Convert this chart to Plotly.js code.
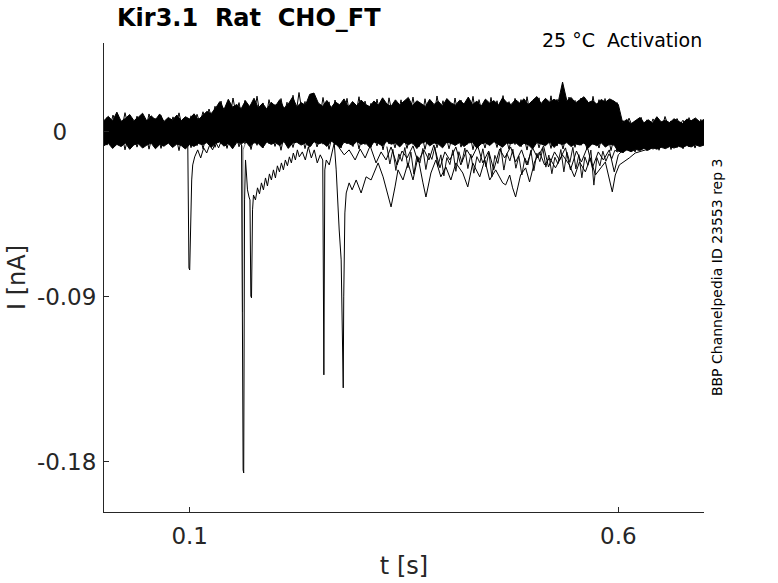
<!DOCTYPE html>
<html>
<head>
<meta charset="utf-8">
<script src="https://cdn.plot.ly/plotly-3.0.1.min.js"></script>
<style>
  html, body { margin: 0; padding: 0; background: #fff; }
  #chart { width: 778px; height: 583px; }
</style>
</head>
<body>
<div id="chart"></div>
<script>
// sweep band, sampled every 5 ms from t = 0 (nA)
const bandStep = 0.005;
const bandUpper = [
  0.0062, 0.0085, 0.0060, 0.0108, 0.0058, 0.0074, 0.0095, 0.0061, 0.0080, 0.0102,
  0.0059, 0.0088, 0.0066, 0.0098, 0.0057, 0.0079, 0.0064, 0.0092, 0.0061, 0.0083,
  0.0070, 0.0099, 0.0066, 0.0090, 0.0112, 0.0100, 0.0128, 0.0165, 0.0122, 0.0178,
  0.0135, 0.0150, 0.0126, 0.0170, 0.0138, 0.0184, 0.0131, 0.0156, 0.0124, 0.0162,
  0.0141, 0.0176, 0.0129, 0.0152, 0.0190, 0.0137, 0.0160, 0.0145, 0.0205, 0.0212,
  0.0158, 0.0140, 0.0172, 0.0133, 0.0163, 0.0148, 0.0180, 0.0136, 0.0166, 0.0142,
  0.0174, 0.0150, 0.0138, 0.0169, 0.0145, 0.0186, 0.0152, 0.0140, 0.0175, 0.0147,
  0.0165, 0.0188, 0.0143, 0.0170, 0.0155, 0.0139, 0.0178, 0.0150, 0.0167, 0.0141,
  0.0182, 0.0158, 0.0146, 0.0173, 0.0152, 0.0190, 0.0149, 0.0168, 0.0140, 0.0179,
  0.0157, 0.0171, 0.0145, 0.0186, 0.0160, 0.0150, 0.0176, 0.0158, 0.0181, 0.0148,
  0.0172, 0.0193, 0.0155, 0.0183, 0.0162, 0.0178, 0.0165, 0.0272, 0.0170, 0.0188,
  0.0158, 0.0175, 0.0192, 0.0160, 0.0170, 0.0152, 0.0177, 0.0163, 0.0180, 0.0168,
  0.0150, 0.0052, 0.0068, 0.0045, 0.0060, 0.0078, 0.0050, 0.0066, 0.0048, 0.0083,
  0.0055, 0.0064, 0.0050, 0.0072, 0.0058, 0.0047, 0.0070, 0.0061, 0.0076, 0.0056,
  0.0068
];
const bandLower = [
  -0.0075, -0.0062, -0.0090, -0.0068, -0.0080, -0.0060, -0.0095, -0.0070, -0.0064, -0.0088,
  -0.0072, -0.0061, -0.0092, -0.0069, -0.0078, -0.0060, -0.0085, -0.0066, -0.0074, -0.0093,
  -0.0068, -0.0079, -0.0063, -0.0070, -0.0058, -0.0085, -0.0062, -0.0055, -0.0078, -0.0060,
  -0.0092, -0.0057, -0.0066, -0.0050, -0.0080, -0.0059, -0.0063, -0.0087, -0.0054, -0.0068,
  -0.0058, -0.0075, -0.0052, -0.0090, -0.0061, -0.0056, -0.0072, -0.0060, -0.0083, -0.0053,
  -0.0066, -0.0058, -0.0079, -0.0050, -0.0064, -0.0088, -0.0057, -0.0062, -0.0074, -0.0052,
  -0.0068, -0.0059, -0.0085, -0.0055, -0.0063, -0.0077, -0.0051, -0.0067, -0.0060, -0.0082,
  -0.0056, -0.0070, -0.0058, -0.0091, -0.0062, -0.0054, -0.0076, -0.0060, -0.0066, -0.0087,
  -0.0055, -0.0063, -0.0072, -0.0058, -0.0080, -0.0061, -0.0056, -0.0089, -0.0065, -0.0059,
  -0.0074, -0.0053, -0.0068, -0.0083, -0.0060, -0.0064, -0.0057, -0.0078, -0.0062, -0.0070,
  -0.0093, -0.0058, -0.0066, -0.0075, -0.0054, -0.0085, -0.0062, -0.0069, -0.0058, -0.0080,
  -0.0065, -0.0071, -0.0060, -0.0088, -0.0063, -0.0076, -0.0059, -0.0082, -0.0067, -0.0072,
  -0.0105, -0.0112, -0.0098, -0.0108, -0.0095, -0.0102, -0.0090, -0.0099, -0.0086, -0.0094,
  -0.0084, -0.0091, -0.0080, -0.0088, -0.0078, -0.0085, -0.0074, -0.0082, -0.0070, -0.0079,
  -0.0072
];

// two sweeps running along the band edges, sampled every 3.5 ms from t = 0
const edgeStep = 0.0035;
const edgeUpper = [
  0.0030, 0.0078, 0.0025, 0.0092, 0.0040, 0.0068, 0.0022, 0.0105, 0.0035, 0.0072,
  0.0028, 0.0086, 0.0045, 0.0064, 0.0020, 0.0098, 0.0038, 0.0075, 0.0030, 0.0090,
  0.0042, 0.0066, 0.0026, 0.0082, 0.0036, 0.0104, 0.0031, 0.0070, 0.0024, 0.0088,
  0.0040, 0.0096, 0.0048, 0.0110, 0.0060, 0.0125, 0.0072, 0.0140, 0.0085, 0.0168,
  0.0090, 0.0152, 0.0080, 0.0185, 0.0095, 0.0160, 0.0078, 0.0172, 0.0102, 0.0148,
  0.0084, 0.0195, 0.0092, 0.0158, 0.0076, 0.0176, 0.0105, 0.0150, 0.0088, 0.0182,
  0.0094, 0.0162, 0.0079, 0.0200, 0.0098, 0.0215, 0.0110, 0.0166, 0.0086, 0.0178,
  0.0100, 0.0155, 0.0082, 0.0188, 0.0096, 0.0164, 0.0078, 0.0174, 0.0108, 0.0150,
  0.0090, 0.0183, 0.0085, 0.0160, 0.0099, 0.0192, 0.0081, 0.0168, 0.0104, 0.0156,
  0.0087, 0.0179, 0.0095, 0.0163, 0.0080, 0.0186, 0.0106, 0.0158, 0.0092, 0.0175,
  0.0083, 0.0168, 0.0101, 0.0190, 0.0089, 0.0160, 0.0078, 0.0181, 0.0097, 0.0165,
  0.0086, 0.0196, 0.0103, 0.0170, 0.0091, 0.0157, 0.0080, 0.0185, 0.0100, 0.0173,
  0.0088, 0.0162, 0.0096, 0.0194, 0.0084, 0.0176, 0.0107, 0.0160, 0.0090, 0.0188,
  0.0095, 0.0170, 0.0082, 0.0198, 0.0102, 0.0165, 0.0089, 0.0183, 0.0099, 0.0176,
  0.0086, 0.0192, 0.0104, 0.0168, 0.0093, 0.0186, 0.0081, 0.0174, 0.0098, 0.0197,
  0.0090, 0.0178, 0.0106, 0.0163, 0.0087, 0.0190, 0.0100, 0.0172, 0.0085, 0.0185,
  0.0096, 0.0170, 0.0088, 0.0194, 0.0103, 0.0176, 0.0091, 0.0182, 0.0099, 0.0168,
  0.0092, 0.0160, 0.0030, 0.0062, 0.0024, 0.0075, 0.0035, 0.0058, 0.0020, 0.0080,
  0.0033, 0.0066, 0.0026, 0.0071, 0.0040, 0.0055, 0.0022, 0.0084, 0.0036, 0.0060,
  0.0028, 0.0073, 0.0041, 0.0064, 0.0025, 0.0078, 0.0034, 0.0059, 0.0030, 0.0070
];
const edgeLower = [
  -0.0025, -0.0072, -0.0018, -0.0088, -0.0030, -0.0065, -0.0015, -0.0098, -0.0028, -0.0070,
  -0.0020, -0.0083, -0.0033, -0.0061, -0.0016, -0.0094, -0.0027, -0.0076, -0.0022, -0.0090,
  -0.0031, -0.0067, -0.0019, -0.0080, -0.0026, -0.0102, -0.0024, -0.0071, -0.0017, -0.0086,
  -0.0029, -0.0075, -0.0021, -0.0092, -0.0026, -0.0068, -0.0018, -0.0084, -0.0030, -0.0063,
  -0.0022, -0.0090, -0.0027, -0.0070, -0.0016, -0.0081, -0.0032, -0.0066, -0.0020, -0.0096,
  -0.0025, -0.0073, -0.0018, -0.0087, -0.0029, -0.0064, -0.0021, -0.0079, -0.0026, -0.0100,
  -0.0019, -0.0069, -0.0031, -0.0085, -0.0023, -0.0062, -0.0017, -0.0091, -0.0028, -0.0074,
  -0.0021, -0.0082, -0.0030, -0.0067, -0.0018, -0.0095, -0.0025, -0.0071, -0.0020, -0.0088,
  -0.0032, -0.0065, -0.0023, -0.0080, -0.0016, -0.0093, -0.0027, -0.0069, -0.0021, -0.0084,
  -0.0029, -0.0076, -0.0019, -0.0098, -0.0024, -0.0066, -0.0030, -0.0087, -0.0018, -0.0072,
  -0.0026, -0.0090, -0.0021, -0.0068, -0.0033, -0.0081, -0.0017, -0.0095, -0.0025, -0.0070,
  -0.0020, -0.0086, -0.0028, -0.0064, -0.0022, -0.0092, -0.0031, -0.0075, -0.0019, -0.0083,
  -0.0027, -0.0068, -0.0016, -0.0097, -0.0024, -0.0072, -0.0030, -0.0088, -0.0021, -0.0065,
  -0.0026, -0.0085, -0.0018, -0.0074, -0.0032, -0.0094, -0.0023, -0.0069, -0.0020, -0.0081,
  -0.0028, -0.0099, -0.0022, -0.0071, -0.0017, -0.0087, -0.0030, -0.0066, -0.0025, -0.0090,
  -0.0019, -0.0077, -0.0029, -0.0093, -0.0023, -0.0068, -0.0031, -0.0084, -0.0018, -0.0073,
  -0.0026, -0.0096, -0.0021, -0.0070, -0.0033, -0.0088, -0.0024, -0.0079, -0.0020, -0.0102,
  -0.0030, -0.0108, -0.0045, -0.0115, -0.0050, -0.0102, -0.0042, -0.0110, -0.0048, -0.0098,
  -0.0040, -0.0104, -0.0046, -0.0095, -0.0038, -0.0100, -0.0044, -0.0090, -0.0036, -0.0096,
  -0.0041, -0.0086, -0.0034, -0.0092, -0.0039, -0.0082, -0.0032, -0.0088, -0.0037, -0.0078
];

// sweep hanging below the band, sampled every 3.5 ms from t = 0.33 s
const lowStart = 0.33;
const lowSweep = [
  -0.0080, -0.0175, -0.0095, -0.0210, -0.0120, -0.0160, -0.0085, -0.0195, -0.0110, -0.0230,
  -0.0130, -0.0170, -0.0090, -0.0205, -0.0115, -0.0150, -0.0082, -0.0188, -0.0125, -0.0240,
  -0.0140, -0.0178, -0.0098, -0.0215, -0.0108, -0.0165, -0.0088, -0.0200, -0.0122, -0.0225,
  -0.0135, -0.0168, -0.0092, -0.0190, -0.0112, -0.0245, -0.0128, -0.0172, -0.0086, -0.0208,
  -0.0118, -0.0158, -0.0094, -0.0198, -0.0132, -0.0235, -0.0142, -0.0180, -0.0100, -0.0212,
  -0.0116, -0.0162, -0.0089, -0.0192, -0.0126, -0.0228, -0.0138, -0.0174, -0.0096, -0.0218,
  -0.0110, -0.0166, -0.0084, -0.0202, -0.0124, -0.0250, -0.0136, -0.0182, -0.0099, -0.0290,
  -0.0140, -0.0185, -0.0105, -0.0160, -0.0120, -0.0145, -0.0100, -0.0110
];

// sweep with the event at 0.1 s
const sweepA_t = [0.0872, 0.0930, 0.0977, 0.0991, 0.1000, 0.1012, 0.1023, 0.1035, 0.1058, 0.1093,
  0.1128, 0.1163, 0.1198, 0.1233, 0.1267, 0.1302, 0.1337, 0.1372, 0.1419, 0.1465, 0.1523, 0.1581];
const sweepA_i = [-0.0033, -0.0060, -0.0044, -0.0742, -0.0753, -0.0453, -0.0262, -0.0180, -0.0136, -0.0098,
  -0.0142, -0.0087, -0.0115, -0.0071, -0.0098, -0.0055, -0.0087, -0.0044, -0.0076, -0.0033, -0.0065, -0.0027];

// sweep with the events at 0.163, 0.171, 0.256 and 0.279 s
const sweepB_t = [
  0.1407, 0.1488, 0.1558, 0.1605, 0.1623, 0.1630, 0.1640, 0.1651, 0.1663, 0.1674,
  0.1692, 0.1703, 0.1713, 0.1721, 0.1733, 0.1744, 0.1767, 0.1791, 0.1814, 0.1837,
  0.1860, 0.1884, 0.1907, 0.1930, 0.1953, 0.1977, 0.2000, 0.2023, 0.2047, 0.2070,
  0.2093, 0.2116, 0.2140, 0.2163, 0.2186, 0.2209, 0.2233, 0.2256, 0.2279, 0.2314,
  0.2349, 0.2384, 0.2419, 0.2453, 0.2488, 0.2523, 0.2552, 0.2558, 0.2565, 0.2576,
  0.2593, 0.2628, 0.2663, 0.2686, 0.2709, 0.2721, 0.2744, 0.2767, 0.2779, 0.2791,
  0.2797, 0.2810, 0.2826, 0.2860, 0.2895, 0.2942, 0.3000, 0.3058, 0.3116, 0.3198,
  0.3256, 0.3314, 0.3349, 0.3395, 0.3430, 0.3488, 0.3547, 0.3605, 0.3663, 0.3721,
  0.3756, 0.3814, 0.3872, 0.3930, 0.3988, 0.4047, 0.4105, 0.4186, 0.4244, 0.4302,
  0.4384, 0.4442, 0.4500, 0.4570, 0.4651, 0.4686, 0.4733, 0.4767, 0.4802, 0.4860,
  0.4919, 0.4965, 0.5023, 0.5081, 0.5140, 0.5198, 0.5267, 0.5349, 0.5430, 0.5488,
  0.5547, 0.5616, 0.5674, 0.5733, 0.5791, 0.5849, 0.5930, 0.5965, 0.6012, 0.6047,
  0.6128, 0.6198, 0.6314, 0.6430, 0.6593, 0.6744, 0.6977
];
const sweepB_i = [
  -0.0055, -0.0076, -0.0049, -0.0071, -0.1844, -0.1860, -0.0371, -0.0153, -0.0235, -0.0316,
  -0.0355, -0.0371, -0.0895, -0.0905, -0.0425, -0.0344, -0.0371, -0.0305, -0.0338, -0.0278,
  -0.0316, -0.0251, -0.0295, -0.0229, -0.0262, -0.0207, -0.0251, -0.0185, -0.0218, -0.0169,
  -0.0207, -0.0153, -0.0185, -0.0136, -0.0169, -0.0115, -0.0153, -0.0098, -0.0136, -0.0109,
  -0.0153, -0.0082, -0.0142, -0.0098, -0.0169, -0.0125, -0.0153, -0.1309, -0.1325, -0.0207,
  -0.0153, -0.0180, -0.0098, -0.0060, -0.0207, -0.0355, -0.0535, -0.0698, -0.1080, -0.1396,
  -0.0900, -0.0442, -0.0333, -0.0278, -0.0316, -0.0262, -0.0333, -0.0245, -0.0262, -0.0169,
  -0.0245, -0.0355, -0.0409, -0.0300, -0.0207, -0.0262, -0.0169, -0.0262, -0.0136, -0.0278,
  -0.0355, -0.0224, -0.0153, -0.0245, -0.0191, -0.0262, -0.0169, -0.0224, -0.0300, -0.0169,
  -0.0245, -0.0153, -0.0262, -0.0207, -0.0278, -0.0289, -0.0235, -0.0305, -0.0355, -0.0235,
  -0.0196, -0.0273, -0.0164, -0.0109, -0.0180, -0.0142, -0.0196, -0.0125, -0.0180, -0.0245,
  -0.0164, -0.0218, -0.0142, -0.0235, -0.0196, -0.0164, -0.0327, -0.0235, -0.0180, -0.0169,
  -0.0142, -0.0115, -0.0098, -0.0082, -0.0071, -0.0060, -0.0055
];

// sweep hanging just under the band between 0.27 and 0.62 s
const sweepC_t = [
  0.2744, 0.2802, 0.2860, 0.2930, 0.2988, 0.3047, 0.3105, 0.3174, 0.3233, 0.3291,
  0.3349, 0.3419, 0.3477, 0.3535, 0.3605, 0.3663, 0.3733, 0.3791, 0.3849, 0.3919,
  0.3977, 0.4035, 0.4105, 0.4163, 0.4233, 0.4291, 0.4360, 0.4419, 0.4488, 0.4547,
  0.4616, 0.4674, 0.4744, 0.4802, 0.4872, 0.4930, 0.5000, 0.5058, 0.5128, 0.5186,
  0.5256, 0.5314, 0.5384, 0.5442, 0.5512, 0.5570, 0.5640, 0.5698, 0.5767, 0.5826,
  0.5895, 0.5953, 0.6000, 0.6058, 0.6174
];
const sweepC_i = [
  -0.0087, -0.0125, -0.0098, -0.0153, -0.0093, -0.0142, -0.0076, -0.0169, -0.0109, -0.0153,
  -0.0082, -0.0180, -0.0104, -0.0142, -0.0076, -0.0164, -0.0098, -0.0153, -0.0071, -0.0196,
  -0.0109, -0.0153, -0.0082, -0.0180, -0.0098, -0.0142, -0.0076, -0.0169, -0.0104, -0.0207,
  -0.0093, -0.0142, -0.0082, -0.0164, -0.0098, -0.0180, -0.0087, -0.0142, -0.0076, -0.0191,
  -0.0109, -0.0153, -0.0087, -0.0207, -0.0104, -0.0164, -0.0082, -0.0196, -0.0109, -0.0153,
  -0.0098, -0.0218, -0.0125, -0.0098, -0.0082
];

// faint sweep with its own short event at 0.162 s
const sweepD_t = [0.1581, 0.1610, 0.1616, 0.1622, 0.1651];
const sweepD_i = [-0.0060, -0.0076, -0.0982, -0.0098, -0.0060];

const tickT = [0.1, 0.6];
const tickI = [-0.18, -0.09, 0];
const tickILabels = ['-0.18', '-0.09', '0\u2007\u2007'];

const font = 'DejaVu Sans, Verdana, sans-serif';
const ink = '#262626';
const nb = '\u00a0\u00a0';

function sweep(extra) {
  return Object.assign({ mode: 'lines', line: { color: '#000', width: 1 }, hoverinfo: 'skip' }, extra);
}

const traces = [
  sweep({ x0: 0, dx: bandStep, y: bandLower }),
  sweep({ x0: 0, dx: bandStep, y: bandUpper, fill: 'tonexty', fillcolor: '#000' }),
  sweep({ x0: 0, dx: edgeStep, y: edgeUpper }),
  sweep({ x0: 0, dx: edgeStep, y: edgeLower }),
  sweep({ x0: lowStart, dx: edgeStep, y: lowSweep, line: { color: '#111', width: 1 } }),
  sweep({ x: sweepC_t, y: sweepC_i }),
  sweep({ x: sweepD_t, y: sweepD_i, line: { color: '#808080', width: 1 } }),
  sweep({ x: sweepA_t, y: sweepA_i }),
  sweep({ x: sweepB_t, y: sweepB_i })
];

const layout = {
  width: 778,
  height: 583,
  margin: { l: 104, r: 74, t: 43, b: 71 },
  paper_bgcolor: '#fff',
  plot_bgcolor: '#fff',
  showlegend: false,
  font: { family: font, color: ink },
  title: {
    text: '<b>Kir3.1' + nb + 'Rat' + nb + 'CHO_FT</b>',
    font: { family: font, size: 24, color: '#000' },
    xref: 'container', x: 117 / 778, xanchor: 'left',
    yref: 'container', y: 1 - 18 / 583, yanchor: 'middle'
  },
  xaxis: {
    range: [0, 0.7],
    tickvals: tickT,
    ticktext: tickT.map(String),
    ticks: 'inside', ticklen: 5, tickcolor: ink,
    ticklabelstandoff: 3,
    showline: true, linecolor: ink, linewidth: 1,
    showgrid: false, zeroline: false,
    tickfont: { family: font, size: 23, color: ink },
    title: { text: 't [s]', font: { family: font, size: 24, color: ink }, standoff: 9 }
  },
  yaxis: {
    range: [-0.2073, 0.0485],
    tickvals: tickI,
    ticktext: tickILabels,
    ticks: 'inside', ticklen: 5, tickcolor: ink,
    ticklabelstandoff: 2,
    showline: true, linecolor: ink, linewidth: 1,
    showgrid: false, zeroline: false,
    tickfont: { family: font, size: 23, color: ink },
    title: { text: 'I [nA]', font: { family: font, size: 24, color: ink }, standoff: 4 }
  },
  annotations: [
    { text: '25 °C' + nb + 'Activation', xref: 'paper', yref: 'paper',
      x: 1, xanchor: 'right', y: 1.0064, yanchor: 'middle', showarrow: false,
      font: { family: font, size: 19, color: '#000' } },
    { text: 'BBP Channelpedia ID 23553 rep 3', xref: 'paper', yref: 'paper',
      x: 1.021, xanchor: 'center', y: 0.5, yanchor: 'middle', textangle: -90,
      showarrow: false, font: { family: font, size: 14, color: '#000' } }
  ]
};

Plotly.newPlot('chart', traces, layout, { displayModeBar: false, staticPlot: true });
</script>
</body>
</html>
